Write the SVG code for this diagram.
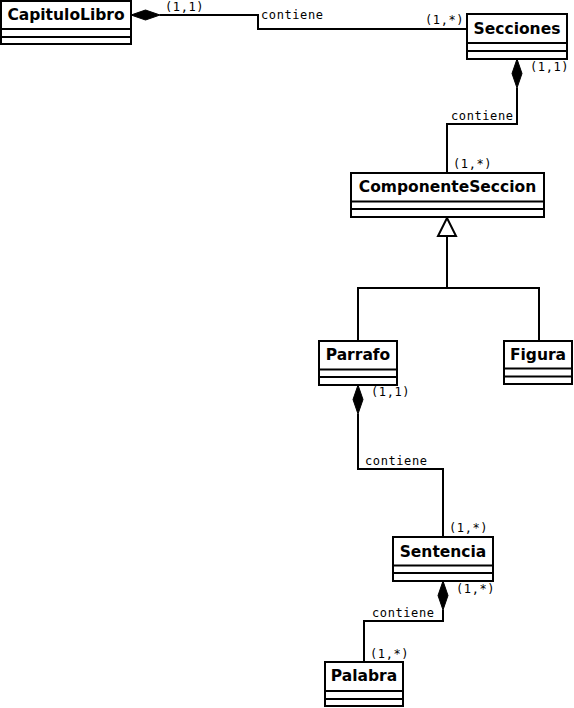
<svg xmlns="http://www.w3.org/2000/svg" width="574" height="708" viewBox="0 0 574 708">
  <style>
    .box { fill: #fff; stroke: #000; stroke-width: 2; }
    .sep { stroke: #000; stroke-width: 2; }
    .title { font-family: "DejaVu Sans", "Liberation Sans", sans-serif; font-weight: bold; font-size: 15.5px; text-anchor: middle; fill: #000; }
    .lbl { font-family: "DejaVu Sans Mono", "Liberation Mono", monospace; font-size: 12px; fill: #000; letter-spacing: 0.6px; }
    .edge { fill: none; stroke: #000; stroke-width: 2; }
    .diamond { fill: #000; stroke: #000; stroke-width: 1; }
    .tri { fill: #fff; stroke: #000; stroke-width: 2; }
  </style>
  <rect width="574" height="708" fill="#fff"/>

  <g id="connectors">
    <!-- CapituloLibro -> Secciones -->
    <polyline class="edge" points="160,15 258,15 258,29 467,29"/>
    <polygon class="diamond" points="131,15 145.5,10 160,15 145.5,20"/>
    <text class="lbl" x="165" y="11">(1,1)</text>
    <text class="lbl" x="261" y="19">contiene</text>
    <text class="lbl" x="425" y="24">(1,*)</text>

    <!-- Secciones -> ComponenteSeccion -->
    <polyline class="edge" points="517,88 517,124 447,124 447,173"/>
    <polygon class="diamond" points="517,59 522,73.5 517,88 512,73.5"/>
    <text class="lbl" x="530" y="71">(1,1)</text>
    <text class="lbl" x="451" y="120">contiene</text>
    <text class="lbl" x="453" y="168">(1,*)</text>

    <!-- generalization: Parrafo, Figura -> ComponenteSeccion -->
    <polyline class="edge" points="358,341 358,288 539,288 539,341"/>
    <line class="edge" x1="447" y1="236" x2="447" y2="288"/>
    <polygon class="tri" points="447,218 456,236 438,236"/>

    <!-- Parrafo -> Sentencia -->
    <polyline class="edge" points="358,414 358,469 443,469 443,537"/>
    <polygon class="diamond" points="358,385 363,399.5 358,414 353,399.5"/>
    <text class="lbl" x="371" y="396">(1,1)</text>
    <text class="lbl" x="365" y="465">contiene</text>
    <text class="lbl" x="449" y="532">(1,*)</text>

    <!-- Sentencia -> Palabra -->
    <polyline class="edge" points="443,610 443,621 364,621 364,662"/>
    <polygon class="diamond" points="443,581 448,595.5 443,610 438,595.5"/>
    <text class="lbl" x="456" y="593">(1,*)</text>
    <text class="lbl" x="372" y="617">contiene</text>
    <text class="lbl" x="370" y="658">(1,*)</text>
  </g>

  <g id="CapituloLibro">
    <rect class="box" x="1" y="1" width="130" height="43"/>
    <line class="sep" x1="1" y1="29" x2="131" y2="29"/>
    <line class="sep" x1="1" y1="37" x2="131" y2="37"/>
    <text class="title" x="66" y="20">CapituloLibro</text>
  </g>

  <g id="Secciones">
    <rect class="box" x="467" y="14" width="100" height="45"/>
    <line class="sep" x1="467" y1="43" x2="567" y2="43"/>
    <line class="sep" x1="467" y1="51" x2="567" y2="51"/>
    <text class="title" x="517" y="34">Secciones</text>
  </g>

  <g id="ComponenteSeccion">
    <rect class="box" x="351" y="173" width="193" height="44"/>
    <line class="sep" x1="351" y1="201.5" x2="544" y2="201.5"/>
    <line class="sep" x1="351" y1="209" x2="544" y2="209"/>
    <text class="title" x="447.5" y="192">ComponenteSeccion</text>
  </g>

  <g id="Parrafo">
    <rect class="box" x="319" y="341" width="78" height="44"/>
    <line class="sep" x1="319" y1="369.5" x2="397" y2="369.5"/>
    <line class="sep" x1="319" y1="377" x2="397" y2="377"/>
    <text class="title" x="358" y="360">Parrafo</text>
  </g>

  <g id="Figura">
    <rect class="box" x="504" y="341" width="68" height="43"/>
    <line class="sep" x1="504" y1="368.5" x2="572" y2="368.5"/>
    <line class="sep" x1="504" y1="376.5" x2="572" y2="376.5"/>
    <text class="title" x="538" y="360">Figura</text>
  </g>

  <g id="Sentencia">
    <rect class="box" x="393" y="537" width="100" height="44"/>
    <line class="sep" x1="393" y1="565.5" x2="493" y2="565.5"/>
    <line class="sep" x1="393" y1="573" x2="493" y2="573"/>
    <text class="title" x="443" y="556.5">Sentencia</text>
  </g>

  <g id="Palabra">
    <rect class="box" x="325" y="662" width="78" height="44"/>
    <line class="sep" x1="325" y1="691" x2="403" y2="691"/>
    <line class="sep" x1="325" y1="699" x2="403" y2="699"/>
    <text class="title" x="364" y="681">Palabra</text>
  </g>
</svg>
